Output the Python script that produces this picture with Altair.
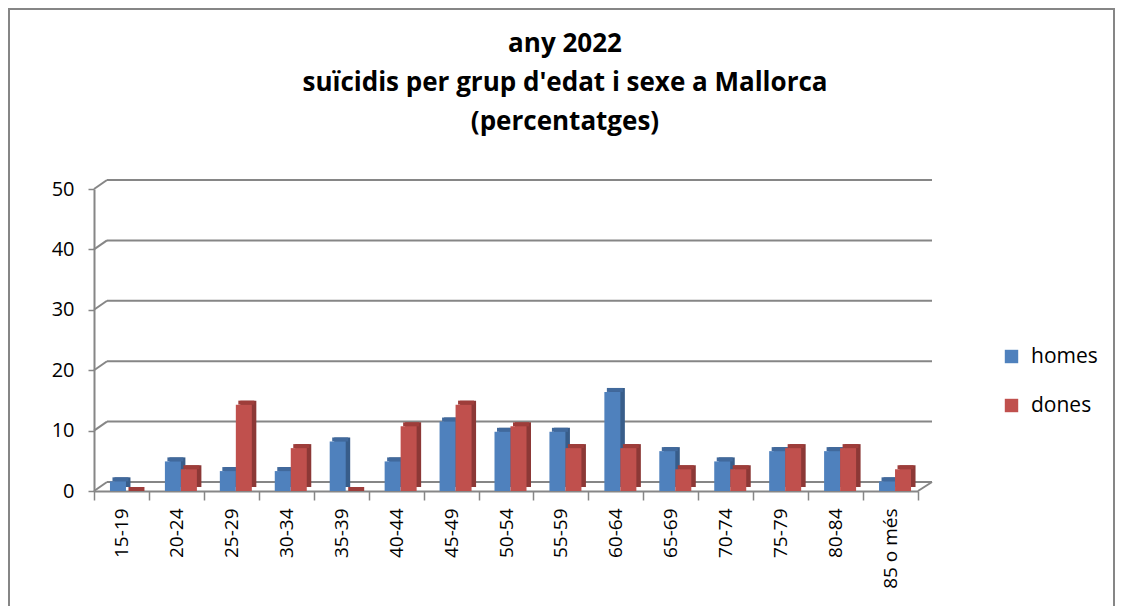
import altair as alt
import pandas as pd

ages = ["15-19", "20-24", "25-29", "30-34", "35-39", "40-44", "45-49", "50-54",
        "55-59", "60-64", "65-69", "70-74", "75-79", "80-84", "85 o més"]
homes = [1.6, 4.9, 3.3, 3.3, 8.2, 4.9, 11.5, 9.8, 9.8, 16.4, 6.6, 4.9, 6.6, 6.6, 1.6]
dones = [0.0, 3.6, 14.3, 7.1, 0.0, 10.7, 14.3, 10.7, 7.1, 7.1, 3.6, 3.6, 7.1, 7.1, 3.6]
series = ["homes", "dones"]
colors = ["#4f81bd", "#c0504d"]
dark_colors = ["#385d8a", "#8c3836"]
top_colors = ["#41699c", "#9e3d3a"]
y_ticks = [0, 10, 20, 30, 40, 50]
title_lines = ["any 2022", "suïcidis per grup d'edat i sexe a Mallorca", "(percentatges)"]

W, H = 824, 302
DX, DY = 13, -9
GRID = "#868686"
FONT = "Open Sans"

rows = []
for a, h, d in zip(ages, homes, dones):
    rows.append({"grup": a, "sexe": "homes", "pct": h})
    rows.append({"grup": a, "sexe": "dones", "pct": d})
df = pd.DataFrame(rows)
grid = pd.DataFrame({"v": y_ticks})
floor = pd.DataFrame({"v": [0]})
one = pd.DataFrame({"a": [0]})

xs = alt.Scale(domain=ages, paddingInner=0, paddingOuter=0)
ys = alt.Scale(domain=[0, 50], nice=False)

x_axis = alt.Axis(title=None, domainColor=GRID, domainWidth=2, tickColor=GRID, tickWidth=1.5,
                  tickSize=9, tickBand="extent", labelAngle=270, labelAlign="right",
                  labelBaseline="middle", labelFontSize=19, labelFont=FONT, labelColor="black",
                  labelPadding=8, grid=False)
y_axis = alt.Axis(title=None, values=y_ticks, domainColor=GRID, domainWidth=2, tickColor=GRID,
                  tickWidth=1.5, tickSize=6, labelFontSize=20, labelFont=FONT, labelColor="black",
                  labelPadding=14, grid=False)

border = alt.Chart(one).mark_rect(fillOpacity=0, stroke=GRID, strokeWidth=2).encode(
    x=alt.value(-85), x2=alt.value(1020), y=alt.value(-180), y2=alt.value(450))

back_grid = alt.Chart(grid).mark_rule(color=GRID, strokeWidth=2, yOffset=DY).encode(
    x=alt.value(DX), x2=alt.value(W + 14), y=alt.Y("v:Q", scale=ys, axis=y_axis))

left_diag = alt.Chart(grid).mark_rule(color=GRID, strokeWidth=2, y2Offset=DY).encode(
    x=alt.value(0), x2=alt.value(DX), y=alt.Y("v:Q", scale=ys, axis=y_axis), y2="v:Q")

right_diag = alt.Chart(floor).mark_rule(color=GRID, strokeWidth=2, y2Offset=DY).encode(
    x=alt.value(W), x2=alt.value(W + 14), y=alt.Y("v:Q", scale=ys, axis=y_axis), y2="v:Q")

base = alt.Chart(df)
BAR_W = 16
offs = {"homes": -3.5, "dones": 12.5}

layers = [border, back_grid, left_diag, right_diag]
for s, dc, tc in zip(series, dark_colors, top_colors):
    sub = base.transform_filter(alt.datum.sexe == s)
    side = sub.mark_bar(width=BAR_W, xOffset=offs[s] + 4.5, yOffset=-4, color=dc).encode(
        x=alt.X("grup:N", scale=xs, sort=ages, axis=x_axis),
        y=alt.Y("pct:Q", scale=ys, axis=y_axis))
    top = sub.mark_tick(size=BAR_W, thickness=4, xOffset=offs[s] + 2.5, yOffset=-2,
                        color=tc, opacity=1).encode(
        x=alt.X("grup:N", scale=xs, sort=ages, axis=x_axis),
        y=alt.Y("pct:Q", scale=ys, axis=y_axis))
    front = sub.mark_bar(width=BAR_W, xOffset=offs[s]).encode(
        x=alt.X("grup:N", scale=xs, sort=ages, axis=x_axis),
        y=alt.Y("pct:Q", scale=ys, axis=y_axis),
        color=alt.Color("sexe:N", scale=alt.Scale(domain=series, range=colors),
                        legend=alt.Legend(title=None, orient="none", legendX=907, legendY=157,
                                          symbolType="square", symbolSize=180,
                                          symbolStrokeWidth=0, labelFontSize=21,
                                          labelFont=FONT, labelColor="black",
                                          rowPadding=27, labelOffset=9)))
    layers += [side, top, front]

chart = alt.layer(*layers).properties(
    width=W, height=H,
    autosize=alt.AutoSizeParams(type="none"),
    padding={"left": 86, "top": 181, "right": 197, "bottom": 115},
    title=alt.TitleParams(text=title_lines, fontSize=26, font=FONT, fontWeight="bold",
                          color="black", anchor="middle", dx=59, offset=-127, lineHeight=39),
).configure_view(strokeWidth=0)

chart.save("out.html", embed_options={"renderer": "svg", "actions": False})
